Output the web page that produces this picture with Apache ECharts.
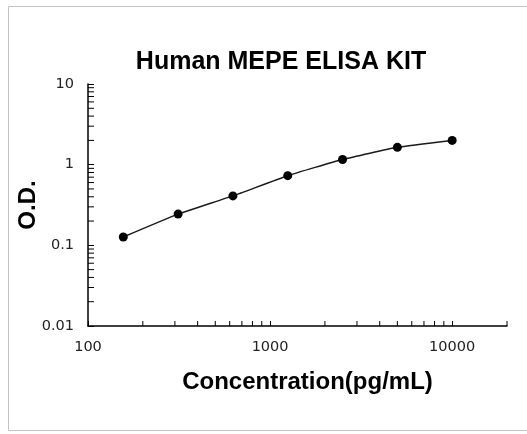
<!DOCTYPE html>
<html>
<head>
<meta charset="utf-8">
<script src="https://cdn.jsdelivr.net/npm/echarts@6/dist/echarts.min.js"></script>
<style>html,body{margin:0;padding:0;background:#fff}#c{width:527px;height:434px}</style>
</head>
<body>
<div id="c"></div>
<script>
var titleText = 'Human MEPE ELISA KIT';
var xName = 'Concentration(pg/mL)';
var yName = 'O.D.';
var concentrations = [156.25, 312.5, 625, 1250, 2500, 5000, 10000];
var odValues = [0.127, 0.244, 0.41, 0.73, 1.16, 1.64, 2.0];
var xMinorTicks = [200, 300, 400, 500, 600, 700, 800, 900, 2000, 3000, 4000, 5000, 6000, 7000, 8000, 9000, 20000];
var yMinorTicks = [0.02, 0.03, 0.04, 0.05, 0.06, 0.07, 0.08, 0.09, 0.2, 0.3, 0.4, 0.5, 0.6, 0.7, 0.8, 0.9, 2, 3, 4, 5, 6, 7, 8, 9];
var xMin = 100, xMax = 20000, yMin = 0.01, yMax = 10;

var chart = echarts.init(document.getElementById('c'), null, {renderer: 'canvas'});
var tickFont = {fontFamily: 'DejaVu Sans', fontSize: 14.5, color: '#222'};
var option = {
  animation: false,
  backgroundColor: '#fff',
  graphic: [{
    type: 'rect', shape: {x: 8.5, y: 6.5, width: 530, height: 424},
    style: {fill: 'none', stroke: '#c4c4c4', lineWidth: 1}, z: -1
  }],
  title: {
    text: titleText, left: 276, top: 45, textAlign: 'center',
    textStyle: {fontFamily: 'Liberation Sans', fontWeight: 'bold', fontSize: 25, color: '#000'}
  },
  grid: {left: 88, right: 20, top: 84, bottom: 108},
  xAxis: {
    type: 'log', logBase: 10, min: xMin, max: xMax,
    name: xName, nameLocation: 'middle', nameGap: 44, nameMoveOverlap: false,
    nameTextStyle: {fontFamily: 'Liberation Sans', fontWeight: 'bold', fontSize: 24, color: '#000', padding: [0, 0, 0, 20]},
    axisLine: {lineStyle: {color: '#000', width: 1.5}},
    axisTick: {inside: true, length: 5, lineStyle: {color: '#000'}},
    axisLabel: Object.assign({margin: 14, showMaxLabel: false, formatter: function(v){return String(Math.round(v));}}, tickFont),
    splitLine: {show: false}
  },
  yAxis: {
    type: 'log', logBase: 10, min: yMin, max: yMax,
    name: yName, nameLocation: 'middle', nameGap: 48, nameRotate: 90, nameMoveOverlap: false,
    nameTextStyle: {fontFamily: 'Liberation Sans', fontWeight: 'bold', fontSize: 24, color: '#000'},
    axisLine: {lineStyle: {color: '#000', width: 1.5}},
    axisTick: {inside: true, length: 6, lineStyle: {color: '#000'}},
    axisLabel: Object.assign({margin: 14, formatter: function(v){return String(+v.toPrecision(3));}}, tickFont),
    splitLine: {show: false}
  },
  series: [
    {
      type: 'line', smooth: 0.15,
      data: concentrations.map(function(c, i){ return [c, odValues[i]]; }),
      symbol: 'circle', symbolSize: 9,
      itemStyle: {color: '#000'},
      lineStyle: {color: '#1a1a1a', width: 1.5}
    },
    {
      type: 'custom', silent: true, clip: false,
      data: xMinorTicks.map(function(v){ return [v, yMin]; }),
      renderItem: function(params, api){
        var p = api.coord([api.value(0), api.value(1)]);
        return {type: 'line', shape: {x1: p[0], y1: p[1], x2: p[0], y2: p[1] - 5}, style: {stroke: '#000', lineWidth: 1}};
      }
    },
    {
      type: 'custom', silent: true, clip: false,
      data: yMinorTicks.map(function(v){ return [xMin, v]; }),
      renderItem: function(params, api){
        var p = api.coord([api.value(0), api.value(1)]);
        return {type: 'line', shape: {x1: p[0], y1: p[1], x2: p[0] + 6, y2: p[1]}, style: {stroke: '#000', lineWidth: 1}};
      }
    }
  ]
};
chart.setOption(option);
</script>
</body>
</html>
